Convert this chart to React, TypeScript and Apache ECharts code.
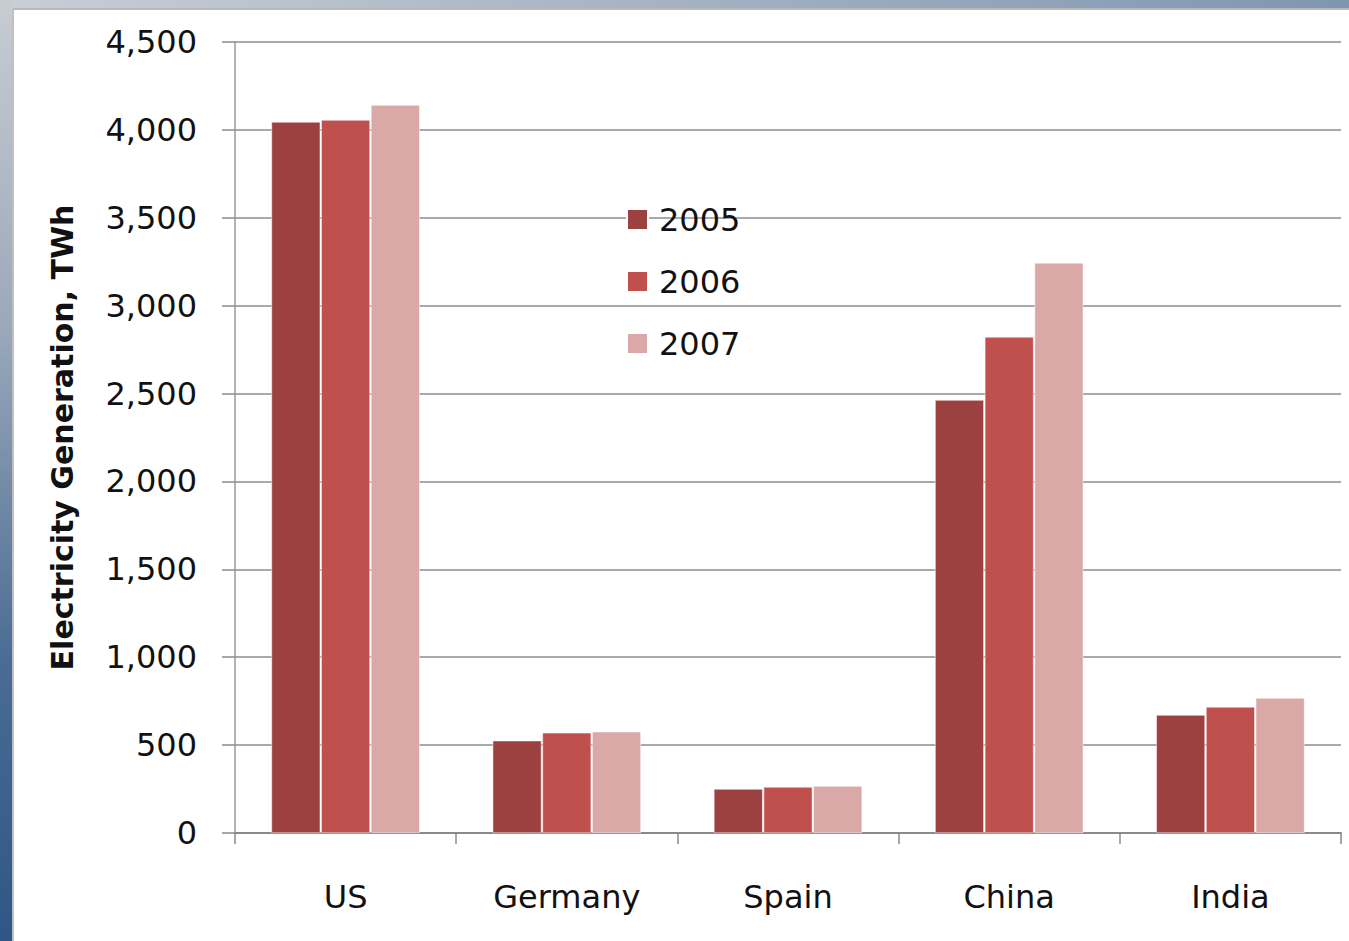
import React, { useEffect, useRef } from "react";
import * as echarts from "echarts";

const categories = ["US", "Germany", "Spain", "China", "India"];
const years = ["2005", "2006", "2007"];
const values2005 = [4045, 525, 250, 2463, 671];
const values2006 = [4056, 570, 262, 2822, 717];
const values2007 = [4141, 576, 267, 3243, 768];
const colors = ["#9c4040", "#c0504d", "#d9a8a7"];

export default function App() {
  const ref = useRef<HTMLDivElement>(null);
  useEffect(() => {
    if (!ref.current) return;
    const chart = echarts.init(ref.current, undefined, { renderer: "svg" });
    const font = "'DejaVu Sans', sans-serif";
    const seriesData = [values2005, values2006, values2007];
    chart.setOption({
      animation: false,
      backgroundColor: "#ffffff",
      graphic: [
        {
          type: "rect",
          shape: { x: 0, y: 0, width: 1349, height: 8 },
          style: {
            fill: new echarts.graphic.LinearGradient(0, 0, 1, 0, [
              { offset: 0, color: "#c9ced6" },
              { offset: 1, color: "#7f96b0" },
            ]),
          },
          z: 0,
        },
        {
          type: "rect",
          shape: { x: 0, y: 8, width: 1349, height: 2 },
          style: { fill: "#b8b8b8" },
          z: 0,
        },
        {
          type: "rect",
          shape: { x: 0, y: 0, width: 12, height: 941 },
          style: {
            fill: new echarts.graphic.LinearGradient(0, 0, 0, 1, [
              { offset: 0, color: "#c8ccd3" },
              { offset: 0.35, color: "#9aa8ba" },
              { offset: 0.7, color: "#4a6c94" },
              { offset: 1, color: "#2f5685" },
            ]),
          },
          z: 0,
        },
        {
          type: "rect",
          shape: { x: 12, y: 8, width: 2, height: 933 },
          style: { fill: "#c0c0c0" },
          z: 0,
        },
      ],
      grid: { left: 235, right: 8, top: 42, bottom: 108, containLabel: false },
      legend: {
        orient: "vertical",
        left: 626,
        top: 203,
        padding: 0,
        itemWidth: 21,
        itemHeight: 21,
        itemGap: 29,
        icon: "rect",
        data: years,
        textStyle: {
          fontFamily: font,
          fontSize: 32,
          lineHeight: 33,
          color: "#111111",
          padding: [0, 0, 0, 6],
        },
      },
      xAxis: {
        type: "category",
        data: categories,
        axisLine: { lineStyle: { color: "#8a8a8a", width: 2 } },
        axisTick: { show: true, length: 11, lineStyle: { color: "#8a8a8a", width: 1.5 } },
        axisLabel: { fontFamily: font, fontSize: 32, color: "#111111", margin: 48 },
      },
      yAxis: {
        type: "value",
        min: 0,
        max: 4500,
        interval: 500,
        name: "Electricity Generation, TWh",
        nameLocation: "middle",
        nameGap: 158,
        nameTextStyle: { fontFamily: font, fontSize: 30, fontWeight: "bold", color: "#111111" },
        axisLine: { show: true, lineStyle: { color: "#9a9a9a", width: 1.5 } },
        axisTick: { show: true, length: 13, lineStyle: { color: "#8a8a8a", width: 1.5 } },
        axisLabel: {
          fontFamily: font,
          fontSize: 32,
          color: "#111111",
          margin: 38,
          formatter: (v: number) => v.toLocaleString("en-US"),
        },
        splitLine: { lineStyle: { color: "#8c8c8c", width: 1.5 } },
      },
      series: years.map((y, i) => ({
        name: y,
        type: "bar",
        data: seriesData[i],
        barGap: "2%",
        barCategoryGap: "33%",
        itemStyle: { color: colors[i], borderColor: "#ffffff", borderWidth: 0.5 },
      })),
    });
    return () => chart.dispose();
  }, []);
  return (
    <div
      ref={ref}
      style={{ position: "absolute", left: 0, top: 0, width: 1349, height: 941 }}
    />
  );
}
